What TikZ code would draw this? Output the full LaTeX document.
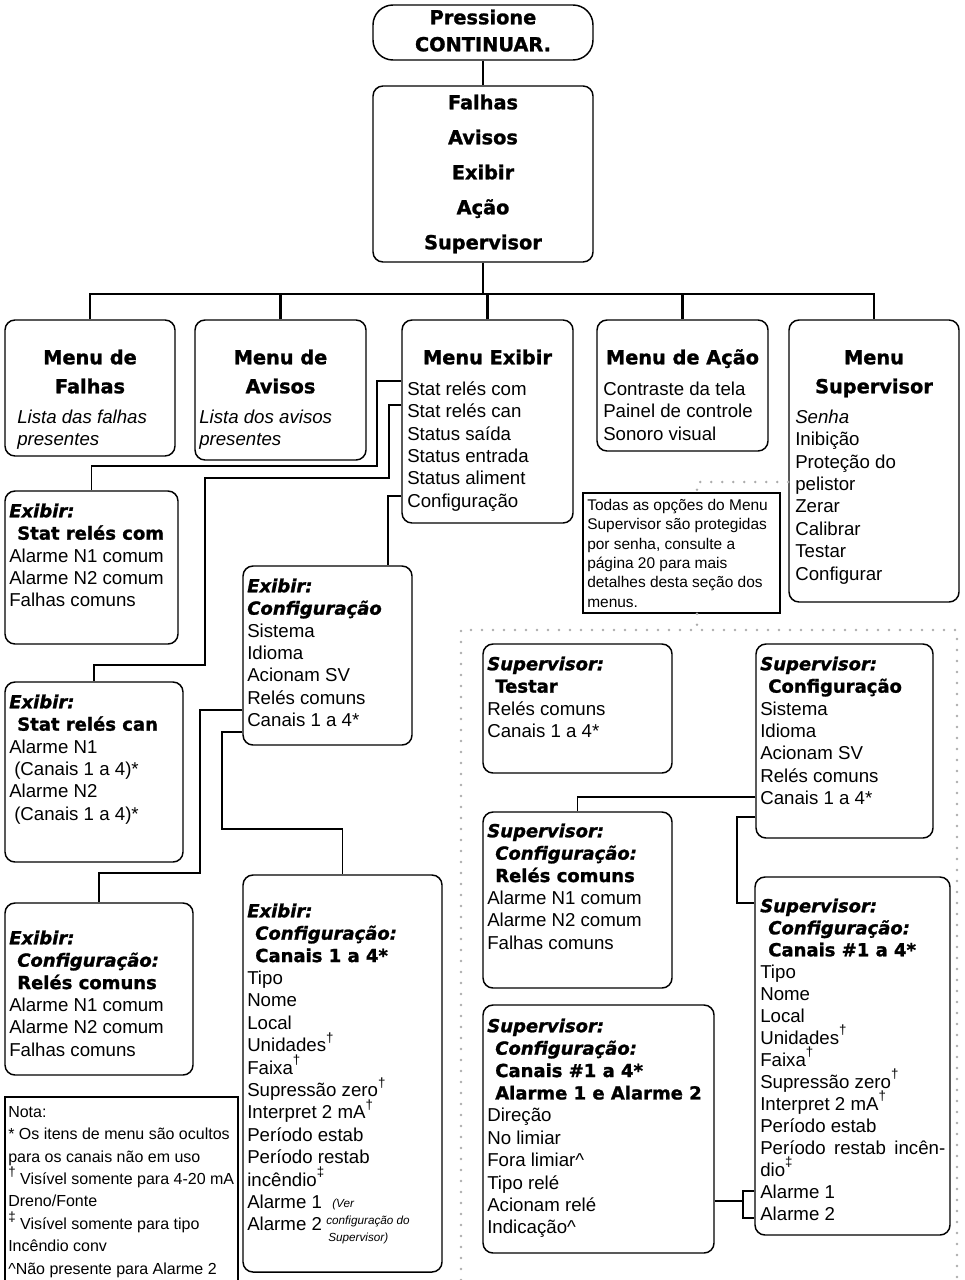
\documentclass[tikz,border=0pt]{standalone}
\usepackage{fontspec}
\setmainfont{Liberation Sans}
\newfontfamily\hdfont{DejaVu Sans}[BoldFont={DejaVu Sans Bold},BoldItalicFont={DejaVu Sans Bold Oblique},ItalicFont={DejaVu Sans Oblique},BoldFeatures={FakeBold=1.3},BoldItalicFeatures={FakeBold=1.3}]
\usetikzlibrary{fit,calc}
\newdimen\pxu \pxu=0.75pt
% type sizes
\newcommand{\bodyf}{\fontsize{14}{16.8}\selectfont}
\newcommand{\hb}{\hdfont\bfseries\fontsize{13.5}{16.8}\selectfont}
\newcommand{\hbi}{\hdfont\bfseries\itshape\fontsize{13.5}{16.8}\selectfont}
\newcommand{\tophd}{\hdfont\bfseries\fontsize{14.5}{21.75}\selectfont}
\newcommand{\ind}{\hspace*{8\pxu}}
\newcommand{\dg}{\smash{\raisebox{0.5em}{\fontsize{10}{10}\selectfont †}}}
\newcommand{\ddg}{\smash{\raisebox{0.5em}{\fontsize{10}{10}\selectfont ‡}}}
\tikzset{
  panel/.style={draw, line width=1.1pt, rounded corners=7.5pt, inner sep=0pt},
  tree/.style={line width=1.7pt},
  conn/.style={line width=0.9pt},
  dots/.style={draw=gray!65, line width=2.6\pxu, line cap=round, dash pattern=on 0pt off 11\pxu},
  txt/.style={anchor=north west, inner sep=0pt, align=left, font=\bodyf},
  ctr/.style={anchor=north, inner sep=0pt, align=center},
}
\begin{document}
\begin{tikzpicture}[x=0.75pt,y=-0.75pt]
\useasboundingbox (0,0) rectangle (964,1280);

% ---------- top of the tree ----------
\node[panel, rounded corners=15pt, fit={(373,5) (593,60)}] (top) {};
\node[ctr, font={\hdfont\bfseries\fontsize{14.5}{20.25}\selectfont}] (top-t) at (483,5.1) {\strut Pressione\\CONTINUAR.};

\node[panel, fit={(373,86) (593,262)}] (menu) {};
\node[ctr, font={\hdfont\bfseries\fontsize{14.5}{26.25}\selectfont}] (menu-t) at (483,84.5)
  {\strut Falhas\\Avisos\\Exibir\\Ação\\Supervisor};

% ---------- first level menus ----------
\node[panel, fit={(5,320) (175,456)}] (mfal) {};
\node[panel, fit={(195,320) (366,460)}] (mavi) {};
\node[panel, fit={(402,320) (573,523)}] (mexib) {};
\node[panel, fit={(597,320) (768,451)}] (macao) {};
\node[panel, fit={(789,320) (959,602)}] (msup) {};

\node[ctr, font=\tophd] (mfal-h) at (90,343.7) {\strut Menu de\\Falhas};
\node[ctr, font=\tophd] (mavi-h) at (280.5,343.7) {\strut Menu de\\Avisos};
\node[ctr, font=\tophd] (mexib-h) at (487.5,343.7) {\strut Menu Exibir};
\node[ctr, font=\tophd] (macao-h) at (682.5,343.7) {\strut Menu de Ação};
\node[ctr, font=\tophd] (msup-h) at (874,343.7) {\strut Menu\\Supervisor};

\node[txt, font=\bodyf\itshape] (mfal-t) at (17,407.3) {\strut Lista das falhas\\presentes};
\node[txt, font=\bodyf\itshape] (mavi-t) at (199,407.3) {\strut Lista dos avisos\\presentes};
\node[txt] (mexib-t) at (407,379.3) {\strut Stat relés com\\Stat relés can\\Status saída\\Status entrada\\Status aliment\\Configuração};
\node[txt] (macao-t) at (603,379.3) {\strut Contraste da tela\\Painel de controle\\Sonoro visual};
\node[txt] (msup-t) at (795,407.3) {\strut\textit{Senha}\\Inibição\\Proteção do\\pelistor\\Zerar\\Calibrar\\Testar\\Configurar};

\draw[tree] (top.south) -- (menu.north);
\draw[tree] (menu.south) -- ++(0,31) coordinate (hub);
\draw[tree] (mfal.north) |- (hub) -| (msup.north);
\foreach \n in {mavi,mexib,macao} \draw[tree] (\n.north) -- (\n.north |- hub);

% ---------- Exibir branch ----------
\node[panel, fit={(5,491) (178,644)}] (esc) {};
\node[txt] (esc-t) at (9,501.3) {\strut{\hbi Exibir:}\\{\hb\ind Stat relés com}\\Alarme N1 comum\\Alarme N2 comum\\Falhas comuns};

\node[panel, fit={(243,566) (412,745)}] (ecfg) {};
\node[txt] (ecfg-t) at (247,576.3) {\strut{\hbi Exibir:}\\{\hbi Configuração}\\Sistema\\Idioma\\Acionam SV\\Relés comuns\\Canais 1 a 4*};

\node[panel, fit={(5,682) (183,862)}] (ecan) {};
\node[txt] (ecan-t) at (9,692.3) {\strut{\hbi Exibir:}\\{\hb\ind Stat relés can}\\Alarme N1\\\hspace*{5\pxu}(Canais 1 a 4)*\\Alarme N2\\\hspace*{5\pxu}(Canais 1 a 4)*};

\node[panel, fit={(5,903) (193,1075)}] (erel) {};
\node[txt] (erel-t) at (9,928.3) {\strut{\hbi Exibir:}\\{\hbi\ind Configuração:}\\{\hb\ind Relés comuns}\\Alarme N1 comum\\Alarme N2 comum\\Falhas comuns};

\node[panel, fit={(243,875) (442,1272)}] (ecanal) {};
\node[txt] (ecanal-t) at (247,901.3) {\strut{\hbi Exibir:}\\{\hbi\ind Configuração:}\\{\hb\ind Canais 1 a 4*}\\Tipo\\Nome\\Local\\Unidades\dg\\Faixa\dg\\Supressão zero\dg\\Interpret 2 mA\dg\\Período estab\\Período restab\\incêndio\ddg\\Alarme 1\\Alarme 2};
\node[txt, font={\itshape\fontsize{8.8}{12.75}\selectfont}] (ecanal-n) at (326,1195.1)
  {\strut\hspace*{6\pxu}(Ver\\configuração do\\\hspace*{2\pxu}Supervisor)};

\draw[conn] (mexib.west |- 0,381) -| (377,466) -| (esc.north);
\draw[conn] (mexib.west |- 0,405) -| (389,478) -| (205,665) -| (ecan.north);
\draw[conn] (mexib.west |- 0,496) -- (388,496) -- (ecfg.north -| 388,0);
\draw[conn] (ecfg.west |- 0,710) -| (200,873) -| (erel.north);
\draw[conn] (ecfg.west |- 0,732) -| (222,829) -| (ecanal.north);

% ---------- notes ----------
\node[draw, line width=1.1pt, inner sep=0pt, fit={(583,493) (780,613)}] (note) {};
\node[txt, font={\fontsize{11.6}{14.55}\selectfont}] (note-t) at (587,496.4)
  {\strut Todas as opções do Menu\\Supervisor são protegidas\\por senha, consulte a\\página 20 para mais\\detalhes desta seção dos\\menus.};

\node[draw, line width=1.9pt, inner sep=0pt, fit={(5,1097) (238,1286)}] (nota) {};
\node[txt, font={\fontsize{12}{16.8}\selectfont}] (nota-t) at (8,1101.3)
  {\strut Nota:\\* Os itens de menu são ocultos\\para os canais não em uso\\\dg\ Visível somente para 4-20 mA\\Dreno/Fonte\\\ddg\ Visível somente para tipo\\Incêndio conv\\\textasciicircum Não presente para Alarme 2};

% ---------- Supervisor section (password protected) ----------
\draw[dots] (msup.west |- 0,482) -- (697,482) -- (note.north -| 697,0);
\draw[dots] (note.south -| 697,0) -- (697,630);
\draw[dots] (461,1280) -- (461,630) -- (957,630) -- (957,1280);

\node[panel, fit={(483,644) (672,773)}] (stest) {};
\node[txt] (stest-t) at (487,654.3) {\strut{\hbi Supervisor:}\\{\hb\ind Testar}\\Relés comuns\\Canais 1 a 4*};

\node[panel, fit={(756,644) (933,838)}] (scfg) {};
\node[txt] (scfg-t) at (760,654.3) {\strut{\hbi Supervisor:}\\{\hb\ind Configuração}\\Sistema\\Idioma\\Acionam SV\\Relés comuns\\Canais 1 a 4*};

\node[panel, fit={(483,812) (672,988)}] (srel) {};
\node[txt] (srel-t) at (487,821.3) {\strut{\hbi Supervisor:}\\{\hbi\ind Configuração:}\\{\hb\ind Relés comuns}\\Alarme N1 comum\\Alarme N2 comum\\Falhas comuns};

\node[panel, fit={(755,877) (950,1235)}] (scan) {};
\node[txt, font={\fontsize{14}{16.5}\selectfont}] (scan-t) at (760,896.6) {\strut{\hbi Supervisor:}\\{\hbi\ind Configuração:}\\{\hb\ind Canais \#1 a 4*}\\Tipo\\Nome\\Local\\Unidades\dg\\Faixa\dg\\Supressão zero\dg\\Interpret 2 mA\dg\\Período estab\\\makebox[185\pxu][s]{Período restab incên-}\\dio\ddg\\Alarme 1\\Alarme 2};

\node[panel, fit={(483,1005) (714,1253)}] (salm) {};
\node[txt] (salm-t) at (487,1016.3) {\strut{\hbi Supervisor:}\\{\hbi\ind Configuração:}\\{\hb\ind Canais \#1 a 4*}\\{\hb\ind Alarme 1 e Alarme 2}\\Direção\\No limiar\\Fora limiar\textasciicircum\\Tipo relé\\Acionam relé\\Indicação\textasciicircum};

\draw[conn] (scfg.west |- 0,797) -| (srel.north);
\draw[conn] (scfg.west |- 0,817) -- (737,817) |- (scan.west |- 0,903);
\draw[conn] (salm.east |- 0,1201) -- (743,1201);
\draw[conn] (scan.west |- 0,1191) -| (743,1218) -- (scan.west |- 0,1218);
\end{tikzpicture}
\end{document}
